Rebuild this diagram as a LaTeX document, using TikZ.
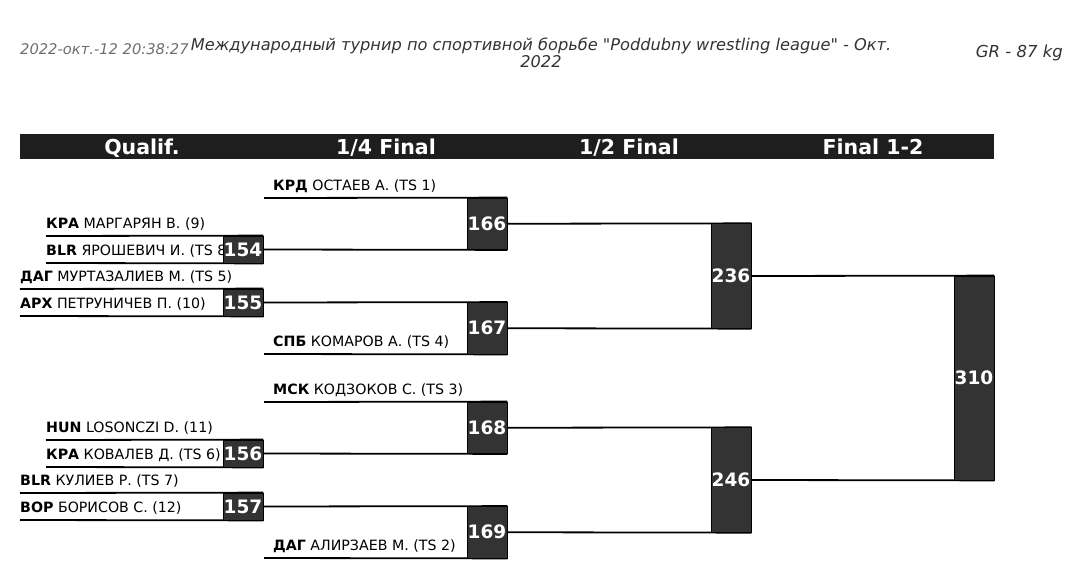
\documentclass[tikz,border=0pt]{standalone}
\usepackage{fontspec}
\setmainfont{DejaVu Sans}
\newfontfamily\plainfont{DejaVu Sans}
\definecolor{boxgray}{HTML}{333333}
\definecolor{hdrblack}{HTML}{1E1E1E}
\definecolor{stampgray}{HTML}{6E6E6E}
\definecolor{titlegray}{HTML}{333333}
\pgfdeclarelayer{bg}
\pgfsetlayers{bg,main}
\tikzset{
  ln/.style={line width=1.8pt, black},
  mbox/.style={fill=boxgray, draw=black, line width=0.8pt, text=white,
    font=\bfseries\fontsize{18.5}{20}\selectfont, inner sep=0pt, minimum width=40pt},
  qbox/.style={mbox, minimum height=27pt},
  fbox/.style={mbox, minimum height=51.5pt},
  who/.style={anchor=base west, inner sep=0pt, font=\fontsize{14.2}{16}\selectfont},
  hdr/.style={anchor=base, text=white, inner sep=0pt, font=\bfseries\fontsize{20.5}{22}\selectfont}
}
\begin{document}
\begin{tikzpicture}[x=1pt,y=-1pt]
\useasboundingbox (0,0) rectangle (1078,570);
% page header
\node[anchor=base west, inner sep=0pt, text=stampgray, font=\plainfont\itshape\fontsize{14.7}{16}\selectfont] (stamp) at (20,54) {2022-окт.-12 20:38:27};
\node[anchor=base, inner sep=0pt, text=titlegray, align=center, font=\plainfont\itshape\fontsize{16.2}{17}\selectfont] (title) at (541,67) {Международный турнир по спортивной борьбе "Poddubny wrestling league" - Окт.\\2022};
\node[anchor=base east, inner sep=0pt, text=titlegray, font=\plainfont\itshape\fontsize{16.5}{18}\selectfont] (cat) at (1063,57) {GR - 87 kg};
% column header bar
\fill[hdrblack] (20,134) rectangle (994,159);
\node[hdr] (h1) at (142,154) {Qualif.};
\node[hdr] (h2) at (386,154) {1/4 Final};
\node[hdr] (h3) at (629,154) {1/2 Final};
\node[hdr] (h4) at (873,154) {Final 1-2};
% competitor names
\node[who] (t154a) at (46,228) {\textbf{КРА} МАРГАРЯН В. (9)};
\node[who] (t154b) at (46,255) {\textbf{BLR} ЯРОШЕВИЧ И. (TS 8)};
\node[who] (t155a) at (20,281) {\textbf{ДАГ} МУРТАЗАЛИЕВ М. (TS 5)};
\node[who] (t155b) at (20,308) {\textbf{АРХ} ПЕТРУНИЧЕВ П. (10)};
\node[who] (t166a) at (273,190) {\textbf{КРД} ОСТАЕВ А. (TS 1)};
\node[who] (t167b) at (273,346) {\textbf{СПБ} КОМАРОВ А. (TS 4)};
\node[who] (t156a) at (46,432) {\textbf{HUN} LOSONCZI D. (11)};
\node[who] (t156b) at (46,459) {\textbf{КРА} КОВАЛЕВ Д. (TS 6)};
\node[who] (t157a) at (20,485) {\textbf{BLR} КУЛИЕВ Р. (TS 7)};
\node[who] (t157b) at (20,512) {\textbf{ВОР} БОРИСОВ С. (12)};
\node[who] (t168a) at (273,394) {\textbf{МСК} КОДЗОКОВ С. (TS 3)};
\node[who] (t169b) at (273,550) {\textbf{ДАГ} АЛИРЗАЕВ М. (TS 2)};
% match boxes
\node[qbox] (m154) at (243,249.5) {154};
\node[qbox] (m155) at (243,302.5) {155};
\node[qbox] (m156) at (243,453.5) {156};
\node[qbox] (m157) at (243,506.5) {157};
\node[fbox] (m166) at (487,223.75) {166};
\node[fbox] (m167) at (487,328.25) {167};
\node[fbox] (m168) at (487,427.75) {168};
\node[fbox] (m169) at (487,532.25) {169};
\node[mbox, minimum height=104.5pt] (m236) at (731,276) {236};
\node[mbox, minimum height=104.5pt] (m246) at (731,480) {246};
\node[mbox, minimum height=204pt] (m310) at (974,378) {310};
% line start points
\coordinate (s154a) at (46,236);
\coordinate (s154b) at (46,263);
\coordinate (s155a) at (20,289);
\coordinate (s155b) at (20,316);
\coordinate (s156a) at (46,440);
\coordinate (s156b) at (46,467);
\coordinate (s157a) at (20,493);
\coordinate (s157b) at (20,520);
\coordinate (s166a) at (264,198);
\coordinate (s167b) at (264,354);
\coordinate (s168a) at (264,402);
\coordinate (s169b) at (264,558);
\begin{pgfonlayer}{bg}
\draw[ln] (s154a) -- (m154.north east);
\draw[ln] (s154b) -- (m154.south east);
\draw[ln] (s155a) -- (m155.north east);
\draw[ln] (s155b) -- (m155.south east);
\draw[ln] (s156a) -- (m156.north east);
\draw[ln] (s156b) -- (m156.south east);
\draw[ln] (s157a) -- (m157.north east);
\draw[ln] (s157b) -- (m157.south east);
\draw[ln] (s166a) -- (m166.north east);
\draw[ln] (m154.east) -- (m166.south east);
\draw[ln] (m155.east) -- (m167.north east);
\draw[ln] (s167b) -- (m167.south east);
\draw[ln] (s168a) -- (m168.north east);
\draw[ln] (m156.east) -- (m168.south east);
\draw[ln] (m157.east) -- (m169.north east);
\draw[ln] (s169b) -- (m169.south east);
\draw[ln] (m166.east) -- (m236.north east);
\draw[ln] (m167.east) -- (m236.south east);
\draw[ln] (m168.east) -- (m246.north east);
\draw[ln] (m169.east) -- (m246.south east);
\draw[ln] (m236.east) -- (m310.north east);
\draw[ln] (m246.east) -- (m310.south east);
\end{pgfonlayer}
\end{tikzpicture}
\end{document}
